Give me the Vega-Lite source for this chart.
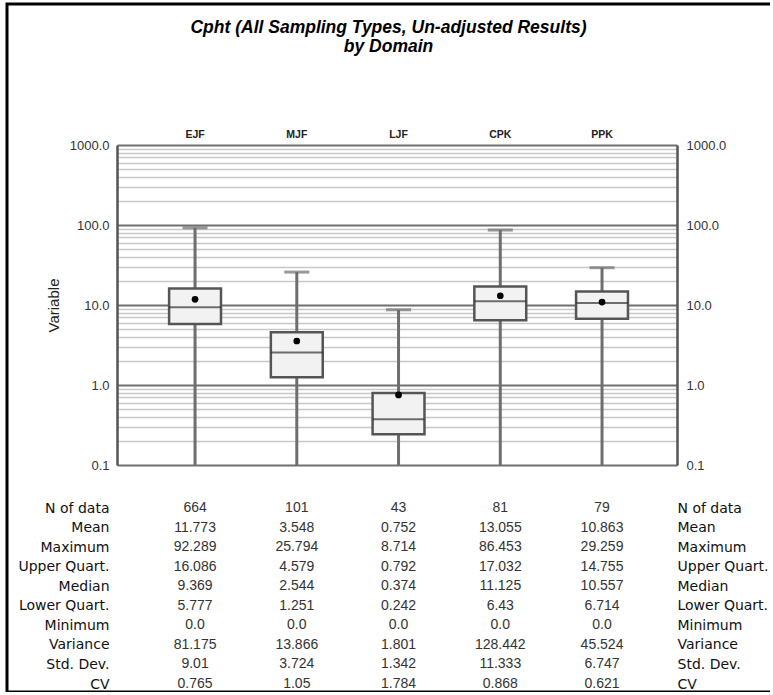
{
  "$schema": "https://vega.github.io/schema/vega-lite/v6.json",
  "width": 763,
  "height": 688,
  "padding": {"left": 7, "top": 4, "right": 0, "bottom": 0},
  "autosize": {"type": "pad"},
  "background": "white",
  "title": {
    "text": ["Cpht (All Sampling Types, Un-adjusted Results)", "by Domain"],
    "font": "Liberation Sans",
    "fontSize": 17.5,
    "fontStyle": "italic",
    "fontWeight": "bold",
    "color": "#000",
    "anchor": "middle",
    "frame": "group",
    "offset": -51,
    "lineHeight": 19
  },
  "datasets": {
    "boxes": [
      {"domain": "EJF", "n": 664, "mean": 11.773, "max": 92.289, "q3": 16.086, "median": 9.369, "q1": 5.777, "min": 0.0},
      {"domain": "MJF", "n": 101, "mean": 3.548, "max": 25.794, "q3": 4.579, "median": 2.544, "q1": 1.251, "min": 0.0},
      {"domain": "LJF", "n": 43, "mean": 0.752, "max": 8.714, "q3": 0.792, "median": 0.374, "q1": 0.242, "min": 0.0},
      {"domain": "CPK", "n": 81, "mean": 13.055, "max": 86.453, "q3": 17.032, "median": 11.125, "q1": 6.43, "min": 0.0},
      {"domain": "PPK", "n": 79, "mean": 10.863, "max": 29.259, "q3": 14.755, "median": 10.557, "q1": 6.714, "min": 0.0}
    ],
    "table": [
      {"domain": "EJF", "stat": "N of data", "value": "664"},
      {"domain": "EJF", "stat": "Mean", "value": "11.773"},
      {"domain": "EJF", "stat": "Maximum", "value": "92.289"},
      {"domain": "EJF", "stat": "Upper Quart.", "value": "16.086"},
      {"domain": "EJF", "stat": "Median", "value": "9.369"},
      {"domain": "EJF", "stat": "Lower Quart.", "value": "5.777"},
      {"domain": "EJF", "stat": "Minimum", "value": "0.0"},
      {"domain": "EJF", "stat": "Variance", "value": "81.175"},
      {"domain": "EJF", "stat": "Std. Dev.", "value": "9.01"},
      {"domain": "EJF", "stat": "CV", "value": "0.765"},
      {"domain": "MJF", "stat": "N of data", "value": "101"},
      {"domain": "MJF", "stat": "Mean", "value": "3.548"},
      {"domain": "MJF", "stat": "Maximum", "value": "25.794"},
      {"domain": "MJF", "stat": "Upper Quart.", "value": "4.579"},
      {"domain": "MJF", "stat": "Median", "value": "2.544"},
      {"domain": "MJF", "stat": "Lower Quart.", "value": "1.251"},
      {"domain": "MJF", "stat": "Minimum", "value": "0.0"},
      {"domain": "MJF", "stat": "Variance", "value": "13.866"},
      {"domain": "MJF", "stat": "Std. Dev.", "value": "3.724"},
      {"domain": "MJF", "stat": "CV", "value": "1.05"},
      {"domain": "LJF", "stat": "N of data", "value": "43"},
      {"domain": "LJF", "stat": "Mean", "value": "0.752"},
      {"domain": "LJF", "stat": "Maximum", "value": "8.714"},
      {"domain": "LJF", "stat": "Upper Quart.", "value": "0.792"},
      {"domain": "LJF", "stat": "Median", "value": "0.374"},
      {"domain": "LJF", "stat": "Lower Quart.", "value": "0.242"},
      {"domain": "LJF", "stat": "Minimum", "value": "0.0"},
      {"domain": "LJF", "stat": "Variance", "value": "1.801"},
      {"domain": "LJF", "stat": "Std. Dev.", "value": "1.342"},
      {"domain": "LJF", "stat": "CV", "value": "1.784"},
      {"domain": "CPK", "stat": "N of data", "value": "81"},
      {"domain": "CPK", "stat": "Mean", "value": "13.055"},
      {"domain": "CPK", "stat": "Maximum", "value": "86.453"},
      {"domain": "CPK", "stat": "Upper Quart.", "value": "17.032"},
      {"domain": "CPK", "stat": "Median", "value": "11.125"},
      {"domain": "CPK", "stat": "Lower Quart.", "value": "6.43"},
      {"domain": "CPK", "stat": "Minimum", "value": "0.0"},
      {"domain": "CPK", "stat": "Variance", "value": "128.442"},
      {"domain": "CPK", "stat": "Std. Dev.", "value": "11.333"},
      {"domain": "CPK", "stat": "CV", "value": "0.868"},
      {"domain": "PPK", "stat": "N of data", "value": "79"},
      {"domain": "PPK", "stat": "Mean", "value": "10.863"},
      {"domain": "PPK", "stat": "Maximum", "value": "29.259"},
      {"domain": "PPK", "stat": "Upper Quart.", "value": "14.755"},
      {"domain": "PPK", "stat": "Median", "value": "10.557"},
      {"domain": "PPK", "stat": "Lower Quart.", "value": "6.714"},
      {"domain": "PPK", "stat": "Minimum", "value": "0.0"},
      {"domain": "PPK", "stat": "Variance", "value": "45.524"},
      {"domain": "PPK", "stat": "Std. Dev.", "value": "6.747"},
      {"domain": "PPK", "stat": "CV", "value": "0.621"}
    ]
  },
  "encoding": {
    "x": {
      "field": "domain",
      "type": "nominal",
      "scale": {"domain": ["EJF", "MJF", "LJF", "CPK", "PPK"], "range": [110, 670], "paddingInner": 0, "paddingOuter": 0.252, "align": 0.53},
      "axis": {"orient": "top", "offset": -141, "labelAngle": 0, "labelPadding": 6, "ticks": false, "tickSize": 0, "domain": false, "grid": false, "title": null, "labelFont": "Liberation Sans", "labelFontSize": 10.5, "labelFontWeight": "bold", "labelColor": "#222"}
    }
  },
  "layer": [
    {
      "data": {"name": "boxes"},
      "mark": {"type": "rule", "color": "#6e6e6e", "strokeWidth": 3},
      "encoding": {
        "y": {"field": "max", "type": "quantitative", "scale": {"type": "log", "domain": [0.1, 1000], "range": [461, 141], "nice": false},
          "axis": {"orient": "left", "offset": -110, "values": [0.2, 0.3, 0.4, 0.5, 0.6, 0.7, 0.8, 0.9, 2, 3, 4, 5, 6, 7, 8, 9, 20, 30, 40, 50, 60, 70, 80, 90, 200, 300, 400, 500, 600, 700, 800, 900], "grid": true, "gridColor": "#c8c8c8", "gridWidth": 1.5, "labels": false, "ticks": false, "domain": false, "title": null}},
        "y2": {"datum": 0.1}
      }
    },
    {
      "data": {"name": "boxes"},
      "mark": {"type": "tick", "color": "#6e6e6e", "thickness": 3, "size": 25},
      "encoding": {
        "y": {"field": "max", "type": "quantitative", "scale": {"type": "log", "domain": [0.1, 1000], "range": [461, 141], "nice": false},
          "axis": {"orient": "left", "offset": -110, "values": [0.1, 1, 10, 100, 1000], "format": ".1f", "grid": true, "gridColor": "#707070", "gridWidth": 2, "ticks": false, "domain": true, "domainColor": "#555", "domainWidth": 2.5, "labelPadding": 8, "labelFont": "Liberation Sans", "labelFontSize": 13, "labelColor": "#333", "title": "Variable", "titleFont": "Liberation Sans", "titleFontSize": 15, "titleFontWeight": "normal", "titleColor": "#222", "titlePadding": 8}}
      }
    },
    {
      "data": {"name": "boxes"},
      "mark": {"type": "bar", "fill": "#f2f2f2", "stroke": "#555", "strokeWidth": 2.5, "width": {"band": 0.51}},
      "encoding": {
        "y": {"field": "q3", "type": "quantitative", "scale": {"type": "log", "domain": [0.1, 1000], "range": [461, 141], "nice": false},
          "axis": {"orient": "right", "offset": -93, "values": [0.1, 1, 10, 100, 1000], "format": ".1f", "grid": false, "ticks": false, "domain": true, "domainColor": "#555", "domainWidth": 2.5, "labelPadding": 9, "labelFont": "Liberation Sans", "labelFontSize": 13, "labelColor": "#333", "title": null}},
        "y2": {"field": "q1"}
      }
    },
    {
      "data": {"name": "boxes"},
      "mark": {"type": "tick", "color": "#333", "thickness": 2, "size": 52},
      "encoding": {
        "y": {"field": "median", "type": "quantitative", "scale": {"type": "log", "domain": [0.1, 1000], "range": [461, 141], "nice": false}, "axis": null}
      }
    },
    {
      "data": {"name": "boxes"},
      "mark": {"type": "point", "filled": true, "color": "#000", "opacity": 1, "size": 45},
      "encoding": {
        "y": {"field": "mean", "type": "quantitative", "scale": {"type": "log", "domain": [0.1, 1000], "range": [461, 141], "nice": false}, "axis": null}
      }
    },
    {
      "data": {"name": "table"},
      "mark": {"type": "text", "font": "Liberation Sans", "fontSize": 14, "color": "#333"},
      "encoding": {
        "y": {"field": "stat", "type": "nominal", "sort": null, "scale": {"type": "point", "range": [504, 680], "padding": 0},
          "axis": {"orient": "left", "offset": -110, "labelPadding": 8, "ticks": false, "domain": false, "grid": false, "title": null, "labelFont": "DejaVu Sans", "labelFontSize": 14, "labelColor": "#111", "labelLimit": 0}},
        "text": {"field": "value", "type": "nominal"}
      }
    },
    {
      "data": {"name": "table"},
      "mark": {"type": "text", "opacity": 0},
      "encoding": {
        "y": {"field": "stat", "type": "nominal", "sort": null, "scale": {"type": "point", "range": [504, 680], "padding": 0},
          "axis": {"orient": "right", "offset": -93, "labelPadding": 0, "labelAlign": "left", "ticks": false, "domain": false, "grid": false, "title": null, "labelFont": "DejaVu Sans", "labelFontSize": 14, "labelColor": "#111", "labelLimit": 0}},
        "text": {"field": "value", "type": "nominal"}
      }
    }
  ],
  "resolve": {"scale": {"y": "independent"}, "axis": {"y": "independent"}},
  "config": {
    "view": {"stroke": "#000", "strokeWidth": 3, "fill": "white", "strokeDash": [763, 688, 1460, 0]},
    "axis": {"labelOverlap": false}
  }
}
